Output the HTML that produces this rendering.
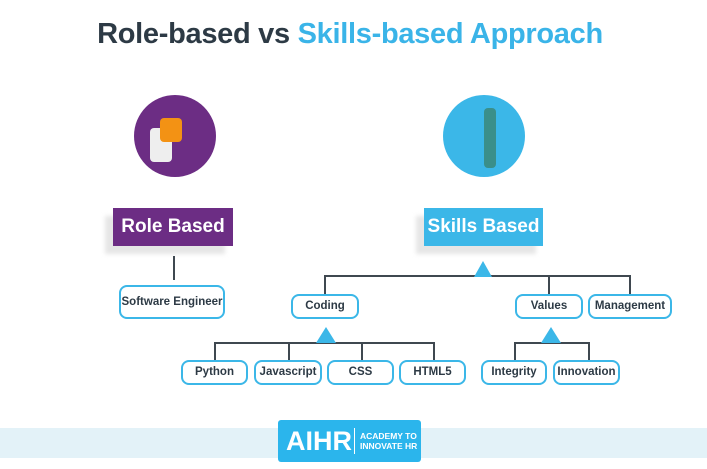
<!DOCTYPE html><html><head><style>
body{margin:0;width:707px;height:469px;background:#fff;position:relative;overflow:hidden;font-family:"Liberation Sans",sans-serif}
.a{position:absolute}
.b{position:absolute;border:2px solid #3bb7e8;border-radius:8px;box-sizing:border-box;text-align:center;font-weight:bold;font-size:11.5px;color:#2d3a45;background:#fff}
.l{position:absolute;background:#3f4850}
</style></head><body>
<div class="a" style="left:0;top:18px;width:700px;text-align:center;font-weight:bold;font-size:29px;letter-spacing:-0.3px;color:#2d3a45">Role-based vs <span style="color:#3ab4e8">Skills-based Approach</span></div>
<div class="a" style="left:134px;top:95px;width:82px;height:82px;border-radius:50%;background:#6c2d84"></div>
<div class="a" style="left:150px;top:128px;width:22px;height:34px;background:#eee;border-radius:4px"></div>
<div class="a" style="left:160px;top:118px;width:22px;height:24px;background:#f39214;border-radius:4px"></div>
<div class="a" style="left:443px;top:95px;width:82px;height:82px;border-radius:50%;background:#3bb7e8"></div>
<div class="a" style="left:484px;top:108px;width:12px;height:60px;background:#3a8f8a;border-radius:4px"></div>
<div class="a" style="left:105px;top:216px;width:120px;height:38px;background:#e6e6e6;filter:blur(2px)"></div>
<div class="a" style="left:113px;top:208px;width:120px;height:38px;background:#6c2d84;color:#fff;font-weight:bold;font-size:19px;line-height:38px;text-align:center">Role Based</div>
<div class="a" style="left:416px;top:216px;width:120px;height:38px;background:#e6e6e6;filter:blur(2px)"></div>
<div class="a" style="left:424px;top:208px;width:119px;height:38px;background:#3bb7e8;color:#fff;font-weight:bold;font-size:19px;line-height:38px;text-align:center">Skills Based</div>
<div class="l" style="left:173px;top:256px;width:2px;height:24px"></div>
<div class="b" style="left:119px;top:285px;width:106px;height:34px;line-height:30px">Software Engineer</div>
<svg class="a" style="left:0;top:0" width="707" height="469">
<g fill="none" stroke="#3f4850" stroke-width="2">
<path d="M325 295V276H630V295M549 276V295"/>
<path d="M215 362V343H434V362M289 343V362M362 343V362"/>
<path d="M515 362V343H589V362"/>
</g>
<g fill="#3bb7e8"><path d="M483 261L474 277H492Z"/><path d="M326 327L316 343H336Z"/><path d="M551 327L541 343H561Z"/></g>
</svg>
<div class="b" style="left:291px;top:294px;width:68px;height:25px;line-height:21px">Coding</div>
<div class="b" style="left:515px;top:294px;width:68px;height:25px;line-height:21px">Values</div>
<div class="b" style="left:588px;top:294px;width:84px;height:25px;line-height:21px">Management</div>
<div class="b" style="left:181px;top:360px;width:67px;height:25px;line-height:21px">Python</div>
<div class="b" style="left:254px;top:360px;width:68px;height:25px;line-height:21px">Javascript</div>
<div class="b" style="left:327px;top:360px;width:67px;height:25px;line-height:21px">CSS</div>
<div class="b" style="left:399px;top:360px;width:67px;height:25px;line-height:21px">HTML5</div>
<div class="b" style="left:481px;top:360px;width:66px;height:25px;line-height:21px">Integrity</div>
<div class="b" style="left:553px;top:360px;width:67px;height:25px;line-height:21px">Innovation</div>
<div class="a" style="left:0;top:428px;width:707px;height:30px;background:#e3f2f8"></div>
<div class="a" style="left:278px;top:420px;width:143px;height:42px;background:#2bb5ec;border-radius:3px;color:#fff">
<div class="a" style="left:8px;top:6px;font-weight:bold;font-size:27px;line-height:30px">AIHR</div>
<div class="a" style="left:76px;top:8px;width:1px;height:26px;background:#fff"></div>
<div class="a" style="left:82px;top:11px;font-weight:bold;font-size:8.5px;line-height:10px">ACADEMY TO<br>INNOVATE HR</div>
</div>
</body></html>
